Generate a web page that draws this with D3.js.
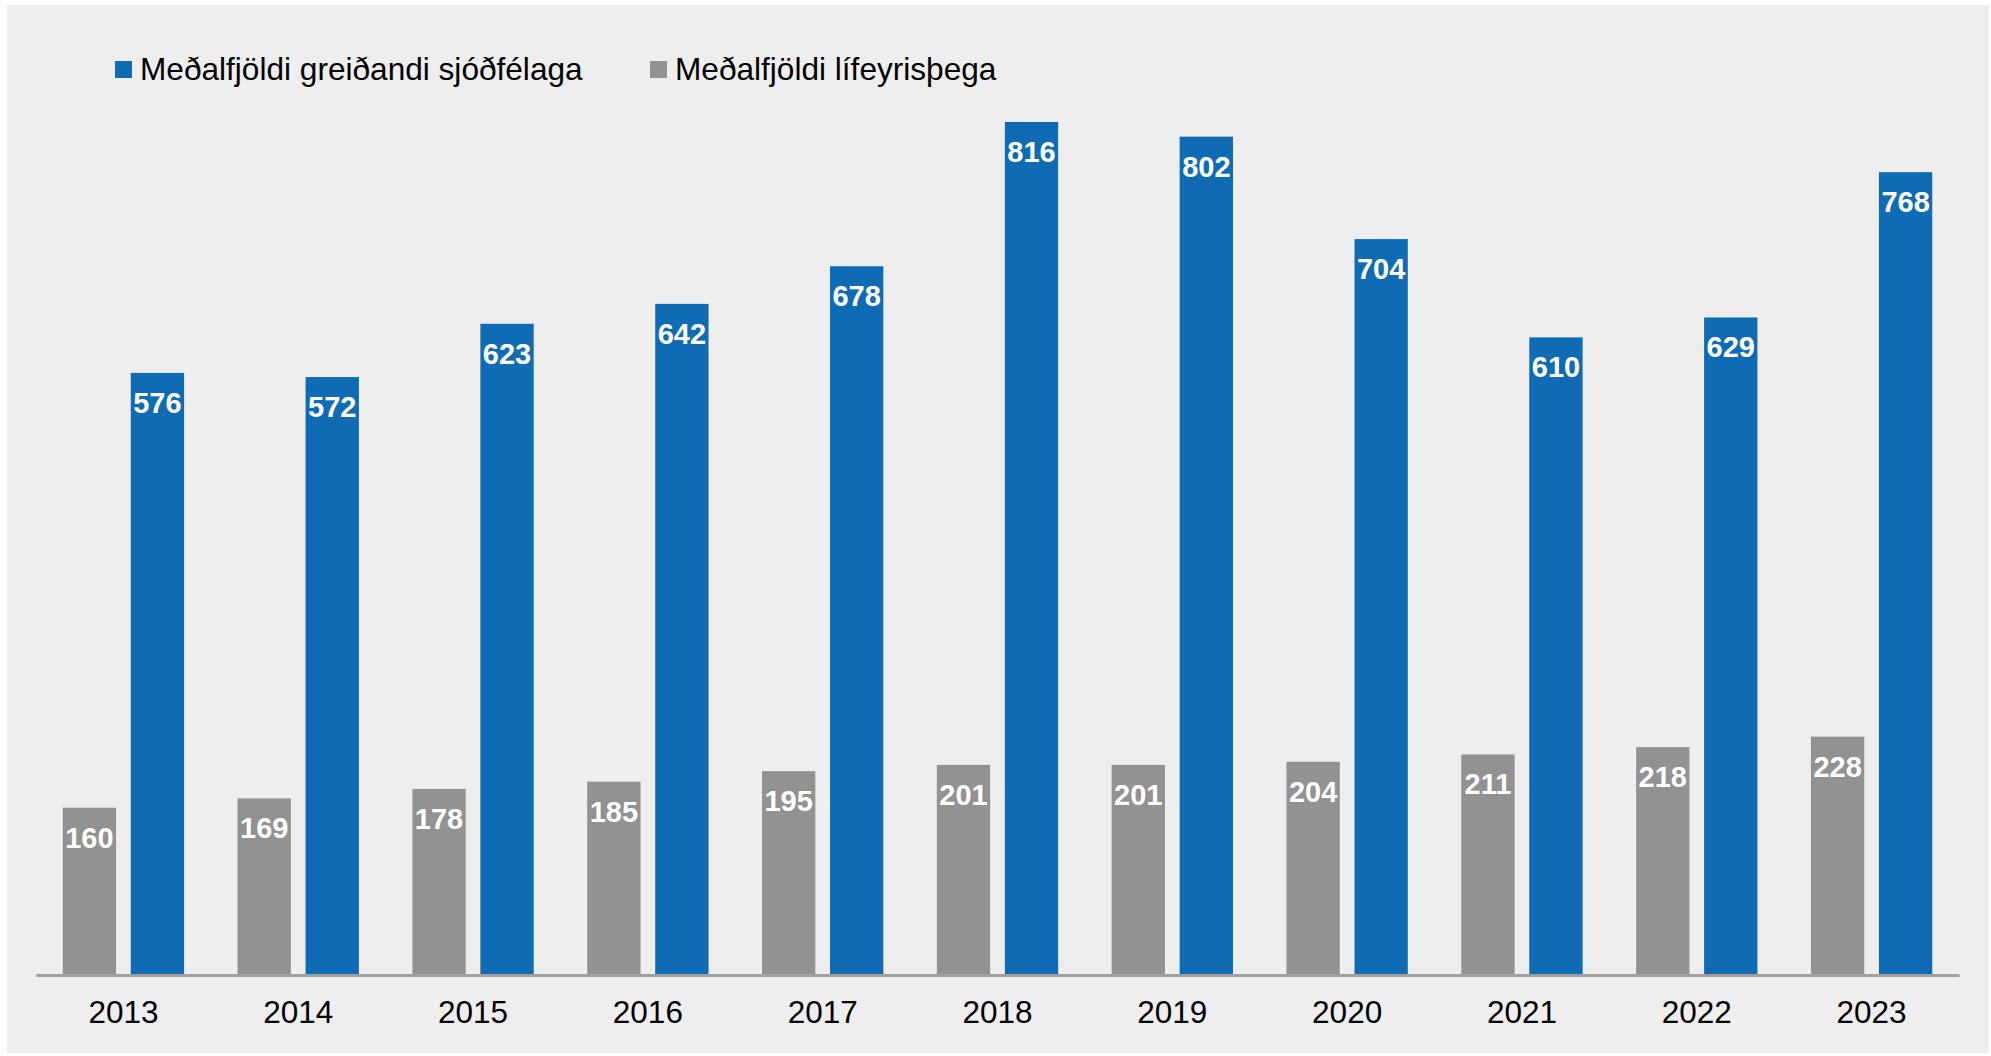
<!DOCTYPE html>
<html>
<head>
<meta charset="utf-8">
<script src="https://cdn.jsdelivr.net/npm/d3@7"></script>
<style>
  html, body { margin: 0; padding: 0; background: #ffffff; }
  svg { display: block; font-family: "Liberation Sans", Arial, sans-serif; }
</style>
</head>
<body>
<script>
// gögn
var years = ["2013", "2014", "2015", "2016", "2017", "2018", "2019", "2020", "2021", "2022", "2023"];
var greidandi = [576, 572, 623, 642, 678, 816, 802, 704, 610, 629, 768];
var lifeyristhegar = [160, 169, 178, 185, 195, 201, 201, 204, 211, 218, 228];
var seriesNames = ["Meðalfjöldi greiðandi sjóðfélaga", "Meðalfjöldi lífeyrisþega"];
var seriesColors = ["#0e6bb4", "#929292"];

var width = 1991, height = 1056;

var svg = d3.select("body").append("svg")
	.attr("width", width)
	.attr("height", height);

// bakgrunnur
svg.append("rect")
	.attr("x", 7).attr("y", 5)
	.attr("width", 1982).attr("height", 1048)
	.attr("fill", "#eeeeee");

var x0 = d3.scaleBand()
	.domain(years)
	.range([36, 1959])
	.paddingInner(0.306)
	.paddingOuter(0.153);

// grá súla fyrst, blá á eftir
var x1 = d3.scaleBand()
	.domain(["lif", "greid"])
	.range([0, x0.bandwidth()])
	.paddingInner(0.216);

var y = d3.scaleLinear()
	.domain([0, 900])
	.range([975, 34.2]);

var rows = years.map(function(yr, i) {
	return {year: yr, vals: [
		{key: "lif", v: lifeyristhegar[i], color: seriesColors[1]},
		{key: "greid", v: greidandi[i], color: seriesColors[0]}
	]};
});

var groups = svg.append("g").selectAll("g")
	.data(rows)
	.enter().append("g")
	.attr("transform", function(d) { return "translate(" + x0(d.year) + ",0)"; });

groups.selectAll("rect")
	.data(function(d) { return d.vals; })
	.enter().append("rect")
	.attr("x", function(d) { return x1(d.key); })
	.attr("y", function(d) { return y(d.v); })
	.attr("width", x1.bandwidth())
	.attr("height", function(d) { return y(0) - y(d.v); })
	.attr("fill", function(d) { return d.color; });

groups.selectAll("text")
	.data(function(d) { return d.vals; })
	.enter().append("text")
	.attr("x", function(d) { return x1(d.key) + x1.bandwidth() / 2; })
	.attr("y", function(d) { return y(d.v) + 40; })
	.attr("text-anchor", "middle")
	.attr("fill", "#ffffff")
	.attr("font-weight", "bold")
	.attr("font-size", "29px")
	.text(function(d) { return d.v; });

// x ás
var xAxis = svg.append("g")
	.attr("transform", "translate(0," + y(0) + ")")
	.call(d3.axisBottom(x0).tickSize(0).tickPadding(48));
xAxis.select(".domain")
	.attr("stroke", "#a0a0a0")
	.attr("stroke-width", 3);
xAxis.selectAll("text")
	.attr("font-family", "Liberation Sans, Arial, sans-serif")
	.attr("font-size", "31.5px")
	.attr("fill", "#000000")
	.attr("dy", 0);

// skýringar
var legendItems = [
	{name: seriesNames[0], color: seriesColors[0], x: 115},
	{name: seriesNames[1], color: seriesColors[1], x: 650}
];
var legend = svg.append("g").selectAll("g")
	.data(legendItems)
	.enter().append("g")
	.attr("transform", function(d) { return "translate(" + d.x + ",0)"; });
legend.append("rect")
	.attr("x", 0).attr("y", 61)
	.attr("width", 17).attr("height", 17)
	.attr("fill", function(d) { return d.color; });
legend.append("text")
	.attr("x", 25).attr("y", 80.3)
	.attr("font-size", "31.6px")
	.attr("fill", "#000000")
	.text(function(d) { return d.name; });
</script>
</body>
</html>
